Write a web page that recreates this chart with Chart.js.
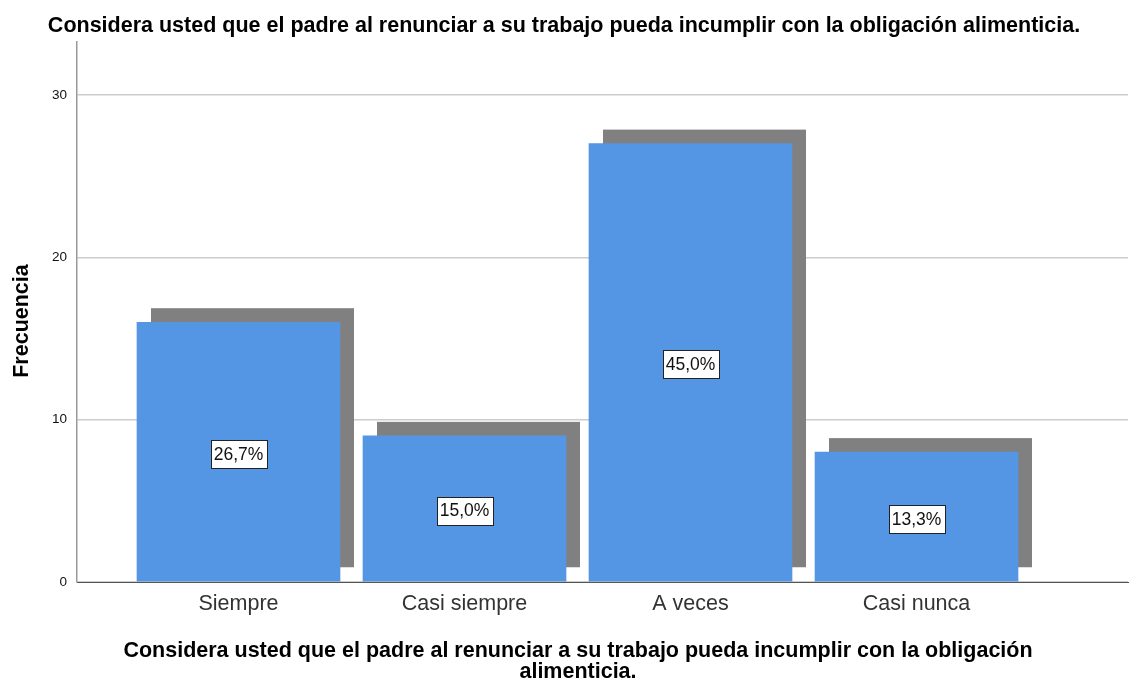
<!DOCTYPE html>
<html>
<head>
<meta charset="utf-8">
<script src="https://cdn.jsdelivr.net/npm/chart.js@4"></script>
<style>
  html, body { margin: 0; padding: 0; background: #fff; }
  #wrap { width: 1130px; height: 684px; }
</style>
</head>
<body>
<div id="wrap"><canvas id="chart" width="1130" height="684"></canvas></div>
<script>
// Data
const categories = ["Siempre", "Casi siempre", "A veces", "Casi nunca"];
const frequencies = [16, 9, 27, 8];
const percentLabels = ["26,7%", "15,0%", "45,0%", "13,3%"];
const yTicks = [0, 10, 20, 30];

const titleText = "Considera usted que el padre al renunciar a su trabajo pueda incumplir con la obligación alimenticia.";
const xTitleLines = ["Considera usted que el padre al renunciar a su trabajo pueda incumplir con la obligación", "alimenticia."];
const yTitleText = "Frecuencia";

const FONT = "'Liberation Sans', Arial, sans-serif";
const SHADOW = 14;

// gray drop shadow behind each bar, offset up and right
const shadowPlugin = {
  id: "shadow",
  beforeDatasetsDraw(chart) {
    const ctx = chart.ctx;
    ctx.save();
    ctx.fillStyle = "#808080";
    chart.getDatasetMeta(0).data.forEach(bar => {
      const w = bar.width;
      ctx.fillRect(bar.x - w / 2 + SHADOW, bar.y - SHADOW, w, bar.base - bar.y);
    });
    ctx.restore();
  }
};

// percentage boxes in the middle of each bar
const boxPlugin = {
  id: "boxes",
  afterDatasetsDraw(chart) {
    const ctx = chart.ctx;
    ctx.save();
    ctx.font = "17.5px " + FONT;
    ctx.textAlign = "center";
    ctx.textBaseline = "middle";
    chart.getDatasetMeta(0).data.forEach((bar, i) => {
      const txt = percentLabels[i];
      const cy = (bar.y + bar.base) / 2 + 2;
      const w = Math.round(ctx.measureText(txt).width) + 6;
      const h = 28;
      const x0 = Math.round(bar.x - w / 2) + 0.5;
      const y0 = Math.round(cy - h / 2) + 0.5;
      ctx.fillStyle = "#fff";
      ctx.fillRect(x0, y0, w, h);
      ctx.strokeStyle = "#222";
      ctx.lineWidth = 1;
      ctx.strokeRect(x0, y0, w, h);
      ctx.fillStyle = "#111";
      ctx.fillText(txt, bar.x, cy + 1);
    });
    ctx.restore();
  }
};

// axis titles (x title is centred on the whole figure, not the plot)
const axisTitlePlugin = {
  id: "axisTitles",
  afterDraw(chart) {
    const ctx = chart.ctx;
    ctx.save();
    ctx.font = "bold 21.5px " + FONT;
    ctx.fillStyle = "#000";
    ctx.textAlign = "center";
    ctx.textBaseline = "middle";
    xTitleLines.forEach((line, i) => ctx.fillText(line, 578, 651 + i * 21));
    ctx.translate(22, 321);
    ctx.rotate(-Math.PI / 2);
    ctx.fillText(yTitleText, 0, 0);
    ctx.restore();
  }
};

new Chart(document.getElementById("chart"), {
  type: "bar",
  data: {
    datasets: [{
      data: frequencies.map((v, i) => ({ x: i + 1, y: v })),
      backgroundColor: "#5495e4",
      borderWidth: 0,
      barThickness: 203
    }]
  },
  options: {
    responsive: false,
    animation: false,
    layout: { padding: { top: 0, right: 2, bottom: 0, left: 0 } },
    plugins: {
      legend: { display: false },
      tooltip: { enabled: false },
      title: {
        display: true,
        text: titleText,
        color: "#000",
        font: { family: FONT, size: 21.5, weight: "bold", lineHeight: 1.2 },
        padding: { top: 13, bottom: 3 }
      }
    },
    scales: {
      x: {
        type: "linear",
        offset: false,
        min: 0.2854,
        max: 4.9358,
        afterBuildTicks: s => { s.ticks = categories.map((c, i) => ({ value: i + 1 })); },
        afterFit: s => { s.height = 684 - 582; },
        ticks: {
          callback: (v) => categories[v - 1] || "",
          color: "#333",
          font: { family: FONT, size: 21.5 },
          padding: 9,
          autoSkip: false,
          maxRotation: 0
        },
        grid: { display: false, drawTicks: false },
        border: { display: true, color: "#555", width: 1 }
      },
      y: {
        min: 0,
        max: 33.27,
        afterBuildTicks: s => { s.ticks = yTicks.map(v => ({ value: v })); },
        afterFit: s => { s.width = 77; },
        ticks: {
          color: "#111",
          font: { family: FONT, size: 13.5 },
          padding: 10
        },
        grid: { color: "#cccccc", lineWidth: 1.5, drawTicks: false },
        border: { display: true, color: "#999", width: 1.5 }
      }
    }
  },
  plugins: [shadowPlugin, boxPlugin, axisTitlePlugin]
});
</script>
</body>
</html>
